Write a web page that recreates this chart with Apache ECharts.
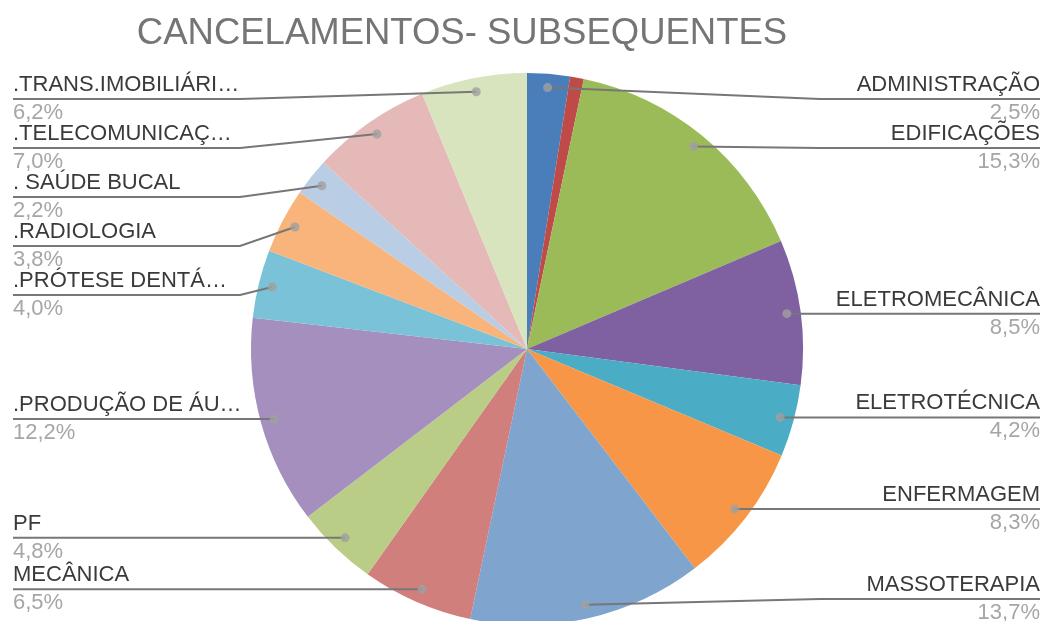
<!DOCTYPE html>
<html>
<head>
<meta charset="utf-8">
<title>Cancelamentos - Subsequentes</title>
<script src="https://cdn.jsdelivr.net/npm/echarts@6/dist/echarts.min.js"></script>
<style>
  html, body { margin: 0; padding: 0; background: #fff; }
  #chart { width: 1044px; height: 621px; }
</style>
</head>
<body>
<div id="chart"></div>
<script>
// dados do gráfico (percentuais)
var cursos = [
  "ADMINISTRAÇÃO", "AGRIMENSURA", "EDIFICAÇÕES", "ELETROMECÂNICA", "ELETROTÉCNICA",
  "ENFERMAGEM", "MASSOTERAPIA", "MECÂNICA", "PF", ".PRODUÇÃO DE ÁU…",
  ".PRÓTESE DENTÁ…", ".RADIOLOGIA", ". SAÚDE BUCAL", ".TELECOMUNICAÇ…", ".TRANS.IMOBILIÁRI…"
];
var percentuais = [2.5, 0.8, 15.3, 8.5, 4.2, 8.3, 13.7, 6.5, 4.8, 12.2, 4.0, 3.8, 2.2, 7.0, 6.2];
var semRotulo = [false, true, false, false, false, false, false, false, false, false, false, false, false, false, false];
var cores = [
  "#4a7ebb", "#be4b48", "#9bbb59", "#7f60a0", "#4bacc6", "#f79646", "#7fa4cd",
  "#d07f7d", "#b9cd87", "#a48fbe", "#79c2d7", "#f8b47b", "#b9cde5", "#e5b9b7", "#d7e4bd"
];

// geometria da pizza
var cx = 527, cy = 349, R = 276, rDot = 0.95;
var fonte = "Liberation Sans, Arial, sans-serif";

var total = percentuais.reduce(function (a, b) { return a + b; }, 0);

// ponto de cada fatia (meio do ângulo) e posição vertical do rótulo
var rotulos = [];
var pontos = [];
var acum = 0;
percentuais.forEach(function (v, i) {
  var meio = acum + v / 2;
  acum += v;
  if (semRotulo[i]) return;
  var ang = meio / total * Math.PI * 2;
  var px = cx + rDot * R * Math.sin(ang);
  var py = cy - rDot * R * Math.cos(ang);
  pontos.push([rDot, meio]);
  rotulos[i] = { idx: i, dx: px, dy: py, right: Math.sin(ang) > 0 };
});

// evita sobreposição dos rótulos de cada lado
[true, false].forEach(function (lado) {
  var lista = rotulos.filter(function (r) { return r && r.right === lado; });
  lista.sort(function (a, b) { return a.dy - b.dy; });
  var ant = -Infinity;
  lista.forEach(function (r) {
    var y = Math.min(Math.max(r.dy, 99), 599);
    y = Math.max(y, ant + 49);
    r.y = y;
    ant = y;
  });
});

var fatias = cursos.map(function (c, i) {
  return { name: c, value: percentuais[i], itemStyle: { color: cores[i] } };
});

// mesma pizza, transparente, só para rótulos e linhas ficarem por cima
var rotulosDados = cursos.map(function (c, i) {
  var item = { name: c, value: percentuais[i] };
  if (semRotulo[i]) {
    item.label = { show: false };
    item.labelLine = { show: false };
  }
  return item;
});

var chart = echarts.init(document.getElementById("chart"));

chart.setOption({
  animation: false,
  title: {
    text: "CANCELAMENTOS- SUBSEQUENTES",
    left: 457,
    top: 10,
    textAlign: "center",
    textStyle: {
      fontFamily: fonte,
      fontSize: 36.5,
      fontWeight: "normal",
      color: "#757575"
    }
  },
  polar: { center: [cx, cy], radius: [0, R] },
  angleAxis: { type: "value", min: 0, max: total, startAngle: 90, clockwise: true, show: false },
  radiusAxis: { type: "value", min: 0, max: 1, show: false },
  series: [
    {
      type: "pie",
      z: 2,
      center: [cx, cy],
      radius: R,
      startAngle: 90,
      clockwise: true,
      silent: true,
      emphasis: { disabled: true },
      itemStyle: { borderWidth: 0 },
      label: { show: false },
      labelLine: { show: false },
      data: fatias
    },
    {
      type: "pie",
      z: 3,
      center: [cx, cy],
      radius: R,
      startAngle: 90,
      clockwise: true,
      silent: true,
      avoidLabelOverlap: false,
      emphasis: { disabled: true },
      itemStyle: { color: "rgba(0,0,0,0)", borderWidth: 0 },
      label: {
        show: true,
        position: "outside",
        fontFamily: fonte,
        formatter: function (p) {
          return "{n|" + p.name + "}\n{p|" + p.value.toFixed(1).replace(".", ",") + "%}";
        },
        rich: {
          n: { fontSize: 22, color: "#3a3a3a", lineHeight: 28, fontFamily: fonte },
          p: { fontSize: 22, color: "#a6a6a6", lineHeight: 28, fontFamily: fonte }
        }
      },
      labelLine: {
        show: true,
        length: 10,
        length2: 10,
        lineStyle: { color: "#777777", width: 2 }
      },
      labelLayout: function (p) {
        var r = rotulos[p.dataIndex];
        if (!r) return {};
        var borda = r.right ? 1040 : 13;
        var dobra = r.right ? 820 : 240;
        return {
          x: borda,
          y: r.y,
          align: r.right ? "right" : "left",
          verticalAlign: "middle",
          labelLinePoints: [[r.dx, r.dy], [dobra, r.y], [borda, r.y]]
        };
      },
      data: rotulosDados
    },
    {
      // bolinhas no início das linhas de chamada
      type: "scatter",
      coordinateSystem: "polar",
      symbol: "circle",
      symbolSize: 9,
      silent: true,
      z: 5,
      itemStyle: { color: "#a0a0a0" },
      data: pontos
    }
  ]
});
</script>
</body>
</html>
